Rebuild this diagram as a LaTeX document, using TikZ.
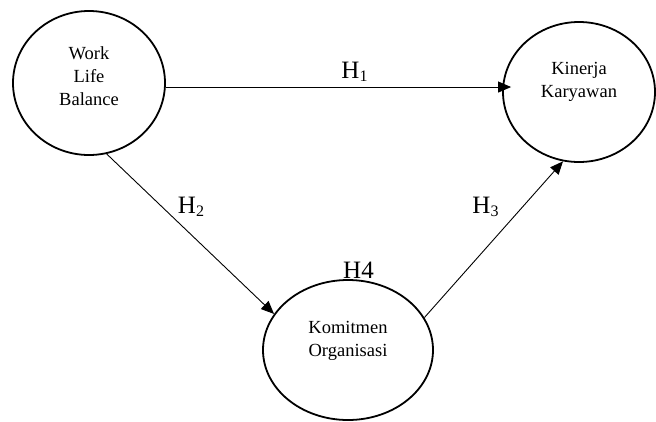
\documentclass[tikz,border=0pt]{standalone}
\usepackage{fontspec}
\setmainfont{Liberation Serif}
\usetikzlibrary{shapes.geometric,arrows.meta}
\tikzset{
  ell/.style={draw, ellipse, line width=1.8pt, inner sep=0pt},
  txt/.style={align=center, font=\fontsize{18.5}{23}\selectfont, inner sep=0pt},
  conn/.style={line width=0.9pt, -{Triangle[length=13pt,width=11pt]}},
  hlab/.style={anchor=base, inner sep=0pt, font=\fontsize{25}{28}\selectfont}
}
\newcommand{\hsub}[1]{\raisebox{-3.5pt}{\fontsize{16}{18}\selectfont #1}}
\begin{document}
\begin{tikzpicture}[x=1pt,y=-1pt]
\useasboundingbox (0,0) rectangle (656,421);
\node[ell, minimum width=152pt, minimum height=144pt] (wlb) at (89,83) {};
\node[ell, minimum width=152pt, minimum height=140pt] (kin) at (579,92) {};
\node[ell, minimum width=170pt, minimum height=140pt] (kom) at (348,350) {};
\node[txt] (wlbt) at (89,76) {Work\\Life\\Balance};
\node[txt] (kint) at (579,82) {Kinerja\\Karyawan};
\node[txt] (komt) at (348,341) {Komitmen\\Organisasi};
\coordinate (h1s) at (wlb.-3);
\draw[conn, shorten >=-9pt] (h1s) -- (h1s -| kin.west);
\draw[conn] (wlb.-76) -- (kom.154);
\draw[conn] (kom.23) -- (kin.-103);
\node[hlab] (h1) at (354.5,78.3) {H\hsub{1}};
\node[hlab] (h2) at (191,213.3) {H\hsub{2}};
\node[hlab] (h3) at (485.5,213.3) {H\hsub{3}};
\node[hlab] (h4) at (358.5,278.3) {H4};
\end{tikzpicture}
\end{document}
